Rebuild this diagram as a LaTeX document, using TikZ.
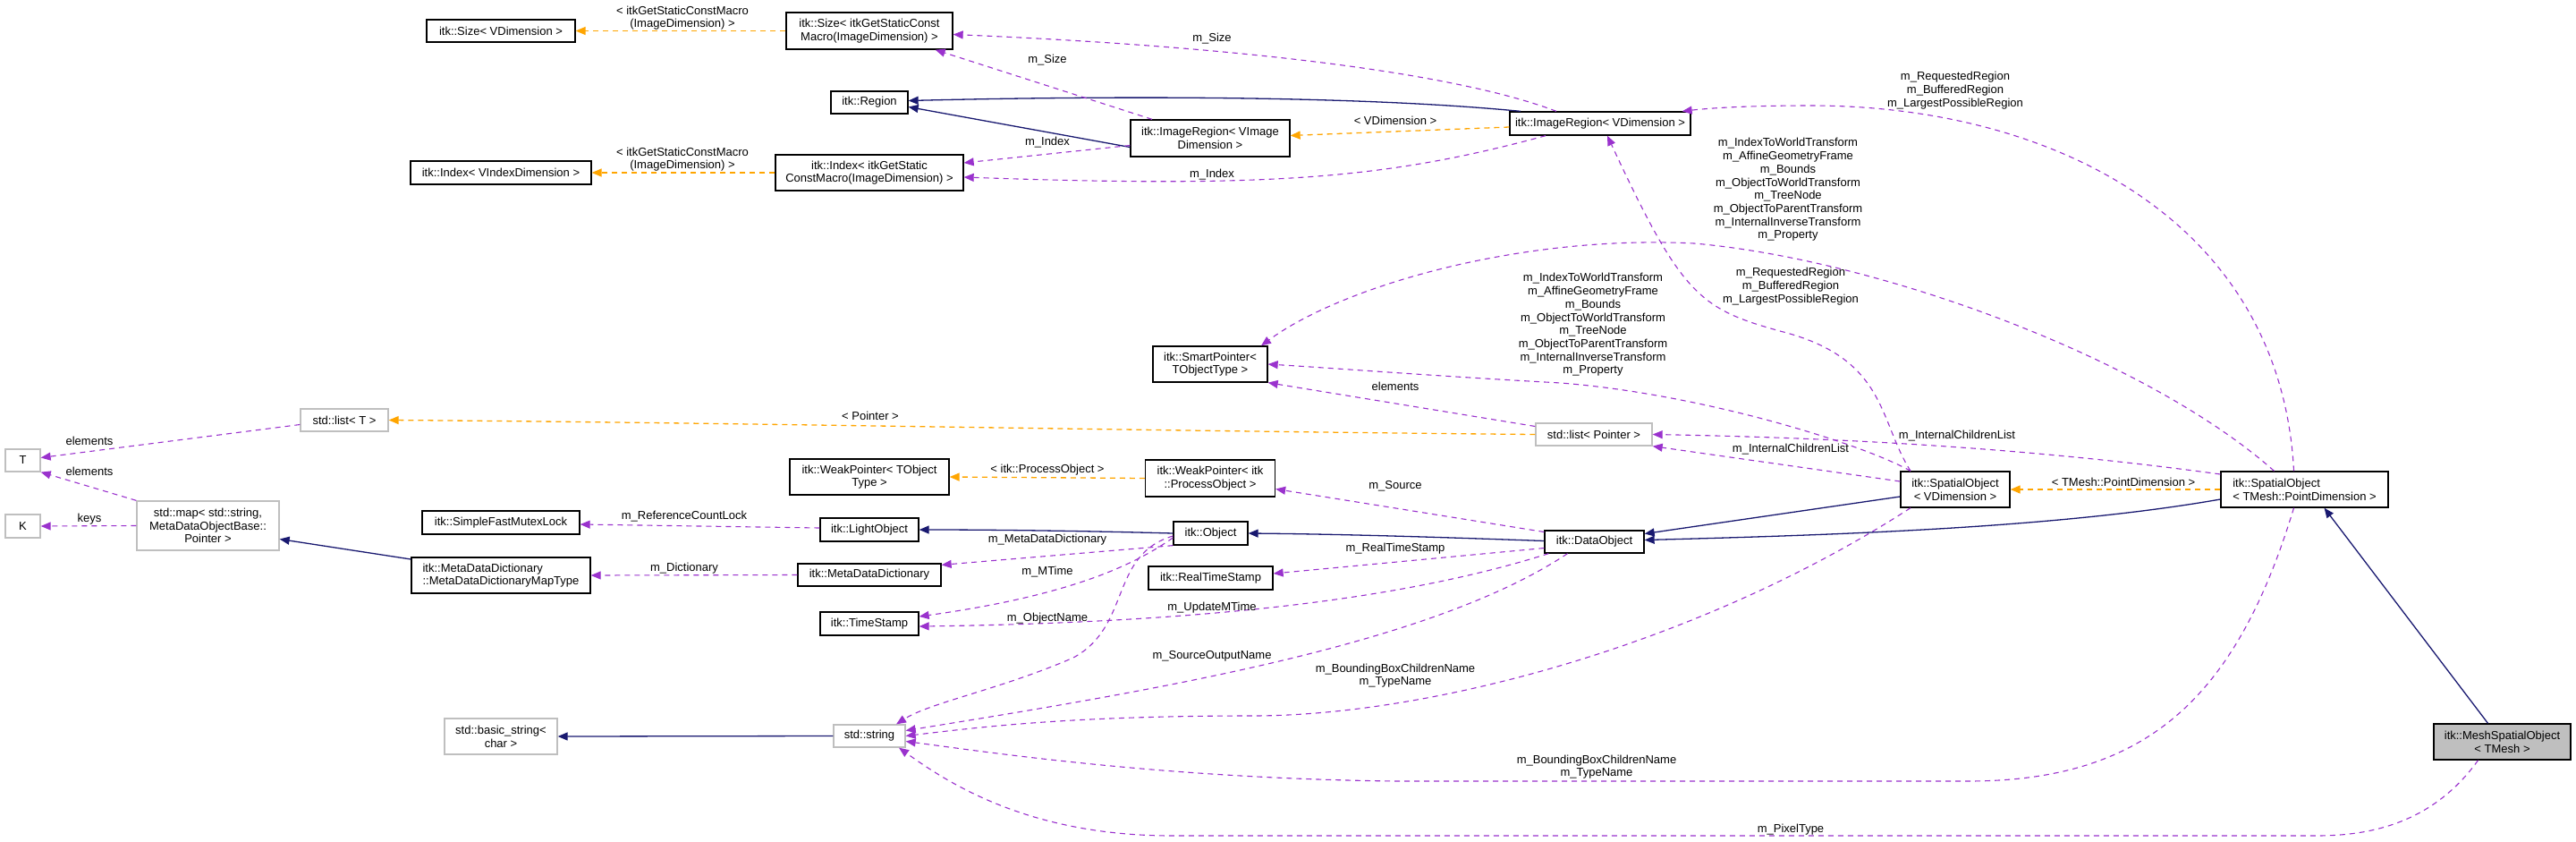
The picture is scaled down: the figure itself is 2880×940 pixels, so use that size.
\documentclass[tikz,border=0pt]{standalone}
\usepackage{fontspec}
\setmainfont{Liberation Sans}
\usetikzlibrary{arrows.meta}
\definecolor{navy}{HTML}{191970}
\definecolor{purp}{HTML}{9A32CD}
\definecolor{orng}{HTML}{FFA500}
\newcommand{\dxf}{\fontsize{13}{14.7}\selectfont}
\begin{document}
\begin{tikzpicture}[x=1pt,y=-1pt,
  box/.style={draw=black,line width=1.3pt,fill=white,inner sep=0pt,align=center,font=\dxf},
  gbox/.style={box,draw=black!25},
  lbl/.style={inner sep=0pt,align=center,font=\dxf},
  tip/.style={-{Triangle[length=11pt,width=9pt]}},
  inh/.style={tip,draw=navy,line width=1.3pt},
  tpl/.style={tip,draw=orng,line width=1.3pt,dash pattern=on 6pt off 5pt},
  use/.style={tip,draw=purp,line width=1.1pt,dash pattern=on 6pt off 5pt}]
\useasboundingbox (0,0) rectangle (2880,940);
% nodes
\node[box,minimum width=166,minimum height=25] (sizeV) at (560,34.5) {itk::Size< VDimension >};
\node[box,minimum width=186,minimum height=41] (sizeG) at (972,34.5) {itk::Size< itkGetStaticConst\\Macro(ImageDimension) >};
\node[box,minimum width=86,minimum height=25] (region) at (972,114.5) {itk::Region};
\node[box,minimum width=202,minimum height=26] (indexV) at (560,193) {itk::Index< VIndexDimension >};
\node[box,minimum width=210,minimum height=40] (indexG) at (972,193) {itk::Index< itkGetStatic\\ConstMacro(ImageDimension) >};
\node[box,minimum width=178,minimum height=41] (irVI) at (1353,154.5) {itk::ImageRegion< VImage\\Dimension >};
\node[box,minimum width=202,minimum height=26] (irVD) at (1789,138) {itk::ImageRegion< VDimension >};
\node[box,minimum width=128,minimum height=40] (smart) at (1353,407) {itk::SmartPointer<\\TObjectType >};
\node[gbox,minimum width=98,minimum height=25] (listT) at (385,469.5) {std::list< T >};
\node[gbox,minimum width=130,minimum height=25] (listP) at (1782,485.5) {std::list< Pointer >};
\node[gbox,minimum width=39,minimum height=25] (T) at (25.5,514.5) {T};
\node[gbox,minimum width=39,minimum height=26] (K) at (25.5,588) {K};
\node[gbox,minimum width=159,minimum height=55] (map) at (232.5,587.5) {std::map< std::string,\\MetaDataObjectBase::\\Pointer >};
\node[box,minimum width=176,minimum height=26] (mutex) at (560,584) {itk::SimpleFastMutexLock};
\node[box,minimum width=200,minimum height=40,align=left] (mapType) at (560,643) {itk::MetaDataDictionary\\::MetaDataDictionaryMapType};
\node[gbox,minimum width=126,minimum height=40] (basic) at (560,823) {std::basic\_string<\\char >};
\node[box,minimum width=178,minimum height=40] (wpT) at (972,533) {itk::WeakPointer< TObject\\Type >};
\node[box,minimum width=145,minimum height=41] (wpP) at (1353,534.5) {itk::WeakPointer< itk\\::ProcessObject >};
\node[box,minimum width=110,minimum height=26] (light) at (972,592) {itk::LightObject};
\node[box,minimum width=83,minimum height=26] (object) at (1353.5,596) {itk::Object};
\node[box,minimum width=160,minimum height=25] (mdd) at (972,642.5) {itk::MetaDataDictionary};
\node[box,minimum width=139,minimum height=26] (rts) at (1353.5,646) {itk::RealTimeStamp};
\node[box,minimum width=110,minimum height=26] (ts) at (972,697) {itk::TimeStamp};
\node[gbox,minimum width=80,minimum height=25] (string) at (972,822.5) {std::string};
\node[box,minimum width=111,minimum height=25] (data) at (1782.5,605.5) {itk::DataObject};
\node[box,minimum width=122,minimum height=40] (soV) at (2186,547) {itk::SpatialObject\\< VDimension >};
\node[box,minimum width=187,minimum height=40,align=left] (soT) at (2576.5,547) {itk::SpatialObject\\< TMesh::PointDimension >};
\node[box,fill=black!25,minimum width=153,minimum height=40] (mesh) at (2797.5,829) {itk::MeshSpatialObject\\< TMesh >};
% inheritance
\draw[inh] ([xshift=-16]mesh.north) -- ([xshift=22]soT.south);
\draw[inh] ([yshift=-11]soT.west) .. controls (2300,590) and (2050,598) .. ([yshift=2]data.east);
\draw[inh] ([yshift=-8]soV.west) -- ([yshift=9]data.east);
\draw[inh] ([yshift=1]data.west) .. controls (1600,600) and (1500,597) .. (object.east);
\draw[inh] (object.west) .. controls (1200,593) and (1100,592) .. (light.east);
\draw[inh] ([yshift=-10]irVI.west) -- ([yshift=-5]region.east);
\draw[inh] ([xshift=-89]irVD.north) .. controls (1500,105) and (1200,108) .. ([yshift=2]region.east);
\draw[inh] ([yshift=18]mapType.west) -- ([yshift=-15]map.east);
\draw[inh] (string.west) -- (basic.east);
% templates
\draw[tpl] (sizeG.west) -- (sizeV.east);
\draw[tpl] (indexG.west) -- (indexV.east);
\draw[tpl] ([yshift=-4]irVD.west) -- ([yshift=3]irVI.east);
\draw[tpl] (listP.west) .. controls (1300,482) and (800,472) .. (listT.east);
\draw[tpl] (wpP.west) -- (wpT.east);
\draw[tpl] (soT.west) -- (soV.east);
% usage
\draw[use] ([yshift=-5]listT.west) -- ([yshift=3]T.east);
\draw[use] (map.north west) -- (T.south east);
\draw[use] (map.west) -- (K.east);
\draw[use] ([yshift=2]light.west) -- ([yshift=-2]mutex.east);
\draw[use] (mdd.west) -- (mapType.east);
\draw[use] (object.south west) -- ([yshift=-2]mdd.north east);
\draw[use] ([yshift=-5]object.west) .. controls (1270,630) and (1200,665) .. ([yshift=8]ts.east);
\draw[use] ([yshift=-3]object.west) .. controls (1240,620) and (1265,700) .. (1200,735) .. controls (1120,770) and (1040,785) .. ([xshift=30]string.north);
\draw[use] ([yshift=11]data.west) -- ([yshift=-12]wpP.east);
\draw[use] ([yshift=-7]data.west) -- ([yshift=5]rts.east);
\draw[use] ([xshift=5]data.south west) .. controls (1600,660) and (1400,695) .. ([yshift=-3]ts.east);
\draw[use] ([xshift=-30]data.south) .. controls (1600,720) and (1300,770) .. ([yshift=6]string.east);
\draw[use] ([xshift=-50]soV.south) .. controls (1900,720) and (1600,800) .. (1400,800) .. controls (1200,800) and (1100,812) .. (string.east);
\draw[use] ([xshift=-12]soT.south) .. controls (2500,780) and (2400,873) .. (2200,873) -- (1560,873) .. controls (1300,870) and (1100,840) .. ([yshift=-6]string.east);
\draw[use] ([xshift=-27]mesh.south) .. controls (2720,920) and (2650,934) .. (2590,934) -- (1310,934) .. controls (1150,934) and (1060,875) .. ([xshift=33]string.south);
\draw[use] ([yshift=9]soV.west) -- (listP.south east);
\draw[use] ([yshift=17]soT.west) .. controls (2300,505) and (2100,490) .. (listP.east);
\draw[use] ([xshift=-50]soV.north) .. controls (2080,495) and (1900,440) .. (1745,428) .. controls (1600,420) and (1500,412) .. (smart.east);
\draw[use] ([xshift=-34]soT.north) .. controls (2400,400) and (2100,290) .. (1894,272) .. controls (1700,262) and (1500,320) .. ([xshift=57]smart.north);
\draw[use] ([yshift=9]listP.west) -- (smart.south east);
\draw[use] ([xshift=-50]soV.north) .. controls (2100,470) and (2110,400) .. (1990,370) .. controls (1900,345) and (1880,330) .. ([xshift=8]irVD.south);
\draw[use] ([xshift=-12]soT.north) .. controls (2550,250) and (2300,118) .. (2024,118) .. controls (1950,118) and (1910,121) .. ([xshift=-10]irVD.north east);
\draw[use] ([xshift=-49]irVD.north) .. controls (1650,90) and (1450,55) .. ([yshift=-4]sizeG.east);
\draw[use] ([xshift=-65]irVI.north) -- ([xshift=-20]sizeG.south east);
\draw[use] ([yshift=-8]irVI.west) -- ([yshift=11]indexG.east);
\draw[use] ([xshift=-61]irVD.south) .. controls (1550,200) and (1420,210) .. ([yshift=-5]indexG.east);
% labels
\node[lbl] (l1) at (763,20) {< itkGetStaticConstMacro\\(ImageDimension) >};
\node[lbl] (l2) at (763,178) {< itkGetStaticConstMacro\\(ImageDimension) >};
\node[lbl] (l3) at (1560,135) {< VDimension >};
\node[lbl] (l4) at (973,465) {< Pointer >};
\node[lbl] (l5) at (1171,525) {< itk::ProcessObject >};
\node[lbl] (l6) at (2374,539) {< TMesh::PointDimension >};
\node[lbl] (l7) at (1355,43) {m\_Size};
\node[lbl] (l8) at (1171,67) {m\_Size};
\node[lbl] (l9) at (1171,159) {m\_Index};
\node[lbl] (l10) at (1355,195) {m\_Index};
\node[lbl] (l11) at (1560,432) {elements};
\node[lbl] (l12) at (100,493) {elements};
\node[lbl] (l13) at (100,527) {elements};
\node[lbl] (l14) at (100,580) {keys};
\node[lbl] (l15) at (765,577) {m\_ReferenceCountLock};
\node[lbl] (l16) at (765,635) {m\_Dictionary};
\node[lbl] (l17) at (1560,543) {m\_Source};
\node[lbl] (l18) at (1171,603) {m\_MetaDataDictionary};
\node[lbl] (l19) at (1560,613) {m\_RealTimeStamp};
\node[lbl] (l20) at (1171,639) {m\_MTime};
\node[lbl] (l21) at (1355,679) {m\_UpdateMTime};
\node[lbl] (l22) at (1171,691) {m\_ObjectName};
\node[lbl] (l23) at (1355,733) {m\_SourceOutputName};
\node[lbl] (l24) at (1560,755) {m\_BoundingBoxChildrenName\\m\_TypeName};
\node[lbl] (l25) at (1785,857) {m\_BoundingBoxChildrenName\\m\_TypeName};
\node[lbl] (l26) at (2002,927) {m\_PixelType};
\node[lbl] (l27) at (2188,487) {m\_InternalChildrenList};
\node[lbl] (l28) at (2002,502) {m\_InternalChildrenList};
\node[lbl] (l29) at (2186,101) {m\_RequestedRegion\\m\_BufferedRegion\\m\_LargestPossibleRegion};
\node[lbl] (l30) at (2002,320) {m\_RequestedRegion\\m\_BufferedRegion\\m\_LargestPossibleRegion};
\node[lbl] (l31) at (1999,212) {m\_IndexToWorldTransform\\m\_AffineGeometryFrame\\m\_Bounds\\m\_ObjectToWorldTransform\\m\_TreeNode\\m\_ObjectToParentTransform\\m\_InternalInverseTransform\\m\_Property};
\node[lbl] (l32) at (1781,363) {m\_IndexToWorldTransform\\m\_AffineGeometryFrame\\m\_Bounds\\m\_ObjectToWorldTransform\\m\_TreeNode\\m\_ObjectToParentTransform\\m\_InternalInverseTransform\\m\_Property};
\end{tikzpicture}
\end{document}
